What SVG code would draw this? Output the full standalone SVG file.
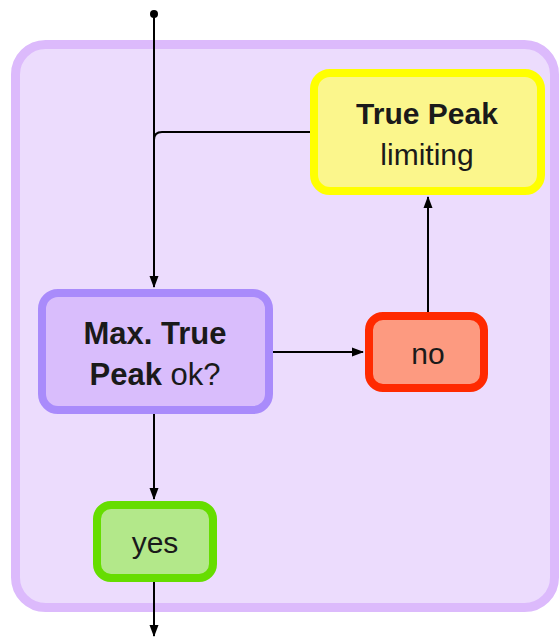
<svg xmlns="http://www.w3.org/2000/svg" width="559" height="637" viewBox="0 0 559 637">
<style>
.t{font-family:"Liberation Sans",Arial,sans-serif;font-size:30px;fill:#1a1a1a;text-anchor:middle}
.b{font-weight:bold}
.c{fill:none;stroke:#000;stroke-width:2}
</style>
<defs>
<marker id="ah" markerWidth="12" markerHeight="10" refX="11" refY="5" orient="auto" markerUnits="userSpaceOnUse">
<path d="M0,0.5 L12,5 L0,9.5 Z" fill="#000"/>
</marker>
</defs>
<rect x="15.5" y="44.5" width="539" height="563" rx="30" fill="#ecdcfd" stroke="#dcbafc" stroke-width="9"/>
<g id="connectors">
<circle cx="154" cy="14" r="4" fill="#000"/>
<path class="c" d="M154,14 V287" marker-end="url(#ah)"/>
<path class="c" d="M310,132 H162 Q154,132 154,140"/>
<path class="c" d="M273,352 H363" marker-end="url(#ah)"/>
<path class="c" d="M428,312 V197" marker-end="url(#ah)"/>
<path class="c" d="M154,414 V499" marker-end="url(#ah)"/>
<path class="c" d="M154,582 V636" marker-end="url(#ah)"/>
</g>
<g id="limiting">
<rect x="314" y="73" width="227" height="118" rx="16" fill="#fbf68c" stroke="#ffff00" stroke-width="8"/>
<text class="t b" x="427" y="124">True Peak</text>
<text class="t" x="427" y="165">limiting</text>
</g>
<g id="check">
<rect x="42" y="293" width="227" height="117" rx="16" fill="#d9bdfc" stroke="#a98bfb" stroke-width="8"/>
<text class="t b" x="155" y="344" style="font-size:31px">Max. True</text>
<text class="t" x="155" y="385" style="font-size:31px"><tspan class="b">Peak</tspan> ok?</text>
</g>
<g id="no">
<rect x="369" y="316" width="115" height="72" rx="14" fill="#fd9a80" stroke="#ff2a00" stroke-width="8"/>
<text class="t" x="428" y="364">no</text>
</g>
<g id="yes">
<rect x="97" y="505" width="116" height="73" rx="14" fill="#b3e88a" stroke="#66dd00" stroke-width="8"/>
<text class="t" x="155" y="553">yes</text>
</g>
</svg>
